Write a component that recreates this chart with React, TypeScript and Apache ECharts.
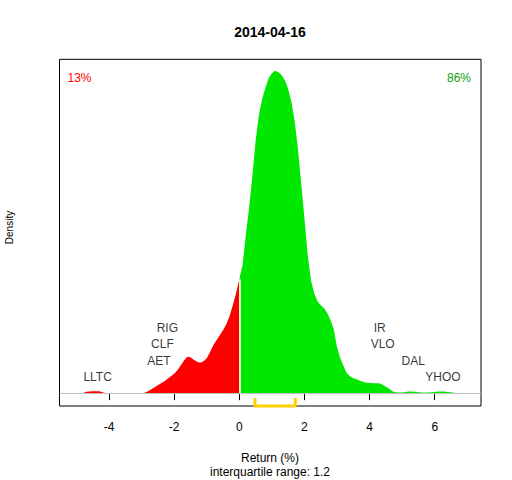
import React, { useEffect, useRef } from "react";
import * as echarts from "echarts";

// Density curve for returns below zero (red) and above zero (green)
const redX = [-5.0, -4.8, -4.7, -4.5, -4.3, -4.2, -4.1, -3.0, -2.9, -2.8, -2.7, -2.6, -2.5, -2.4, -2.3, -2.2, -2.1, -2.0, -1.9, -1.8, -1.7, -1.6, -1.5, -1.4, -1.3, -1.2, -1.1, -1.0, -0.9, -0.8, -0.7, -0.6, -0.5, -0.4, -0.3, -0.2, -0.1, 0.0];
const redY = [0, 0, 0.0021, 0.0028, 0.0028, 0.0014, 0, 0, 0.0007, 0.0028, 0.0056, 0.0084, 0.0112, 0.014, 0.0168, 0.0203, 0.0238, 0.0273, 0.0322, 0.0386, 0.0456, 0.0512, 0.0505, 0.047, 0.0442, 0.0428, 0.0449, 0.0491, 0.0575, 0.0673, 0.0743, 0.0813, 0.0883, 0.0967, 0.1079, 0.1234, 0.1402, 0.1598];

const greenX = [0.0, 0.1, 0.2, 0.3, 0.4, 0.5, 0.6, 0.7, 0.8, 0.9, 1.0, 1.1, 1.2, 1.3, 1.4, 1.5, 1.6, 1.7, 1.8, 1.9, 2.0, 2.1, 2.2, 2.3, 2.4, 2.5, 2.6, 2.7, 2.8, 2.9, 3.0, 3.1, 3.2, 3.3, 3.4, 3.5, 3.6, 3.7, 3.8, 3.9, 4.0, 4.1, 4.2, 4.3, 4.4, 4.5, 4.6, 4.7, 4.8, 4.9, 5.0, 5.1, 5.2, 5.3, 5.4, 5.5, 5.6, 5.8, 5.9, 6.0, 6.1, 6.2, 6.3, 6.4, 6.5, 6.6, 6.65];
const greenY = [0.1598, 0.1794, 0.2215, 0.2594, 0.3042, 0.3533, 0.3897, 0.4122, 0.4276, 0.4416, 0.4486, 0.4521, 0.45, 0.4458, 0.4388, 0.4262, 0.408, 0.3813, 0.3421, 0.2944, 0.2453, 0.1935, 0.1584, 0.1402, 0.129, 0.1234, 0.1192, 0.1122, 0.1023, 0.0897, 0.0645, 0.0491, 0.0379, 0.028, 0.0238, 0.021, 0.0196, 0.0175, 0.0161, 0.0147, 0.0143, 0.014, 0.014, 0.014, 0.0119, 0.0091, 0.0063, 0.0028, 0.0014, 0.001, 0.001, 0.0017, 0.0024, 0.0024, 0.0021, 0.0014, 0.001, 0.001, 0.0011, 0.0017, 0.0024, 0.0024, 0.0024, 0.0017, 0.0011, 0.0007, 0];

// Axis ticks
const tickValues = [-4, -2, 0, 2, 4, 6];

// Stock labels
const stockNames = ["LLTC", "AET", "CLF", "RIG", "IR", "VLO", "DAL", "YHOO"];
const stockX = [-4.35, -2.47, -2.36, -2.21, 4.31, 4.4, 5.34, 6.25];
const stockY = [0.022, 0.045, 0.069, 0.092, 0.092, 0.069, 0.045, 0.022];

// Interquartile range bracket
const iqr = [0.48, 1.72];

// Texts
const titleText = "2014-04-16";
const pctNeg = "13%";
const pctPos = "86%";
const xName = "Return (%)";
const subName = "interquartile range: 1.2";
const yName = "Density";

const FONT = "'Liberation Sans', Arial, sans-serif";
const X_MIN = -5.52;
const X_MAX = 7.42;
const Y_MIN = -0.018;
const Y_MAX = 0.468;
const BRACKET_TOP = -0.0067;

export default function App() {
  const ref = useRef<HTMLDivElement>(null);

  useEffect(() => {
    if (!ref.current) return;
    const chart = echarts.init(ref.current, null, { renderer: "svg" });

    const redData = redX.map((x, i) => [x, redY[i]]);
    const greenData = greenX.map((x, i) => [x, greenY[i]]);
    const bracketData = [
      [iqr[0], BRACKET_TOP],
      [iqr[0], Y_MIN],
      [iqr[1], Y_MIN],
      [iqr[1], BRACKET_TOP],
    ];
    const labelData = stockNames.map((n, i) => ({ name: n, value: [stockX[i], stockY[i]] }));

    chart.setOption({
      animation: false,
      backgroundColor: "#ffffff",
      grid: {
        left: 59.5,
        right: 31,
        top: 59.3,
        bottom: 74,
        show: true,
        borderColor: "#000000",
        borderWidth: 1,
        backgroundColor: "transparent",
      },
      xAxis: {
        type: "value",
        min: X_MIN,
        max: X_MAX,
        splitLine: { show: false },
        axisLine: { show: false },
        axisTick: {
          show: true,
          inside: false,
          length: 7,
          customValues: tickValues,
          lineStyle: { color: "#000000", width: 1 },
        },
        axisLabel: {
          show: true,
          customValues: tickValues,
          margin: 15,
          color: "#000000",
          fontSize: 12,
          fontFamily: FONT,
        },
      },
      yAxis: {
        type: "value",
        min: Y_MIN,
        max: Y_MAX,
        splitLine: { show: false },
        axisLine: { show: false },
        axisTick: { show: false },
        axisLabel: { show: false },
      },
      series: [
        {
          type: "line",
          data: redData,
          showSymbol: false,
          symbol: "none",
          lineStyle: { width: 0, opacity: 0 },
          areaStyle: { color: "#FF0000", opacity: 1 },
          z: 2,
        },
        {
          type: "line",
          data: greenData,
          showSymbol: false,
          symbol: "none",
          lineStyle: { width: 0, opacity: 0 },
          areaStyle: { color: "#00E800", opacity: 1 },
          z: 2,
        },
        {
          type: "line",
          data: bracketData,
          showSymbol: false,
          symbol: "none",
          clip: false,
          lineStyle: { color: "#FFD000", width: 3 },
          z: 4,
          markLine: {
            silent: true,
            symbol: "none",
            label: { show: false },
            data: [
              { yAxis: 0, lineStyle: { color: "#BEBEBE", width: 1, type: "solid" } },
              [
                { coord: [0, 0], lineStyle: { color: "#FFFFFF", width: 1.5, type: "solid" } },
                { coord: [0, redY[redY.length - 1]] },
              ],
            ],
          },
        },
        {
          type: "scatter",
          data: labelData,
          symbolSize: 1,
          itemStyle: { color: "rgba(0,0,0,0)" },
          label: {
            show: true,
            position: "inside",
            formatter: (p: any) => p.name,
            color: "#000000",
            fontSize: 12,
            fontFamily: FONT,
          },
          z: 5,
        },
      ],
      graphic: [
        {
          type: "text",
          x: 270,
          y: 31.5,
          style: {
            text: titleText,
            fontSize: 14,
            fontWeight: "bold",
            fontFamily: FONT,
            fill: "#000000",
            textAlign: "center",
            textVerticalAlign: "middle",
          },
        },
        {
          type: "text",
          x: 67.5,
          y: 77.7,
          style: {
            text: pctNeg,
            fontSize: 12,
            fontFamily: FONT,
            fill: "#FF0000",
            textAlign: "left",
            textVerticalAlign: "middle",
          },
        },
        {
          type: "text",
          x: 471,
          y: 77.7,
          style: {
            text: pctPos,
            fontSize: 12,
            fontFamily: FONT,
            fill: "#10A010",
            textAlign: "right",
            textVerticalAlign: "middle",
          },
        },
        {
          type: "text",
          x: 270,
          y: 458,
          style: {
            text: xName,
            fontSize: 12,
            fontFamily: FONT,
            fill: "#000000",
            textAlign: "center",
            textVerticalAlign: "middle",
          },
        },
        {
          type: "text",
          x: 270,
          y: 471.5,
          style: {
            text: subName,
            fontSize: 12,
            fontFamily: FONT,
            fill: "#000000",
            textAlign: "center",
            textVerticalAlign: "middle",
          },
        },
        {
          type: "text",
          x: 9.5,
          y: 227.5,
          rotation: Math.PI / 2,
          style: {
            text: yName,
            fontSize: 10,
            fontFamily: FONT,
            fill: "#000000",
            textAlign: "center",
            textVerticalAlign: "middle",
          },
        },
      ],
    });

    return () => {
      chart.dispose();
    };
  }, []);

  return (
    <div
      ref={ref}
      style={{ position: "fixed", left: 0, top: 0, width: 512, height: 480, background: "#ffffff" }}
    />
  );
}
